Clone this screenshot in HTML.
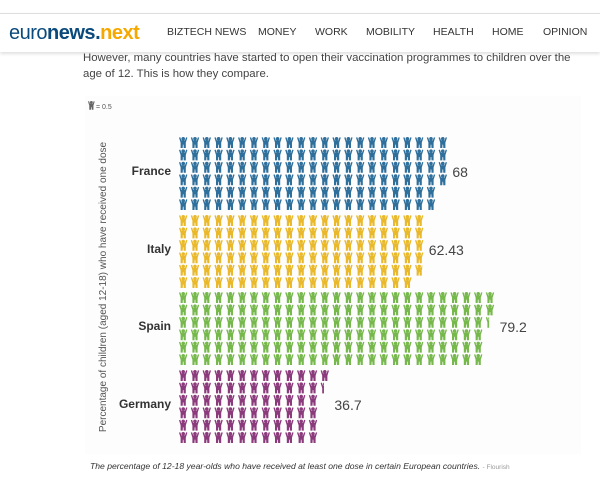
<!DOCTYPE html>
<html><head><meta charset="utf-8"><style>
body{margin:0;width:600px;height:497px;background:#fff;font-family:"Liberation Sans",sans-serif;position:relative;overflow:hidden}
.top{position:absolute;left:0;top:13px;width:600px;height:38px;background:#fff;box-shadow:0 2px 3px rgba(0,0,0,.12);border-top:1px solid #ddd}
.logo{position:absolute;left:9px;top:22px;font-size:20px;letter-spacing:-0.5px;color:#0b4a7c}
.logo b{font-weight:bold}.logo .n{color:#f5a800;font-weight:bold}
.nav{position:absolute;top:26px;font-size:10.5px;color:#333}
.p{position:absolute;left:83px;top:50px;font-size:11.4px;line-height:16px;color:#444;width:503px}
.cap{position:absolute;left:90px;top:461px;font-size:8.6px;font-style:italic;color:#333}
.cap span{font-style:normal;color:#999;font-size:6.5px}
</style></head><body>
<div class="top"></div>
<div class="logo">euro<b>news</b><b>.</b><span class="n">next</span></div>
<div class="nav" style="left:167px">BIZTECH NEWS</div>
<div class="nav" style="left:258px">MONEY</div>
<div class="nav" style="left:315px">WORK</div>
<div class="nav" style="left:366px">MOBILITY</div>
<div class="nav" style="left:433px">HEALTH</div>
<div class="nav" style="left:492px">HOME</div>
<div class="nav" style="left:543px">OPINION</div>
<div class="p">However, many countries have started to open their vaccination programmes to children over the age of 12. This is how they compare.</div>
<svg id="s" width="600" height="497" style="position:absolute;left:0;top:0">
<rect x="85" y="96" width="496" height="358" fill="#fdfdfd"/>
<defs><g id="pp"><circle cx="4.2" cy="1.8" r="1.8"/><path d="M0 0.6 L1.3 0.2 L2.4 3.4 L6 3.4 L7.1 0.2 L8.4 0.6 L6.8 5.6 L6.8 11 L4.7 11 L4.5 7.6 L3.9 7.6 L3.7 11 L1.6 11 L1.6 5.6 Z"/></g></defs>
<g transform="translate(88,101)" fill="#666"><use href="#pp" transform="scale(0.8)"/></g>
<text x="96" y="109" font-size="7" fill="#555">= 0.5</text>
<text transform="translate(106,287) rotate(-90)" text-anchor="middle" font-size="10" fill="#555">Percentage of children (aged 12-18) who have received one dose</text>
<g id="g"></g>
</svg>
<div class="cap">The percentage of 12-18 year-olds who have received at least one dose in certain European countries. <span>- Flourish</span></div>
<script>
var data=[["France",68,"#2f6f9c",137],["Italy",62.43,"#e9b92b",215],["Spain",79.2,"#76b84c",292],["Germany",36.7,"#8b3b7c",370]];
var g=document.getElementById('g'),h="";
data.forEach(function(d){
 var n=d[1]*2,i=0,lastc=0;
 for(var c=0;i<n;c++){for(var r=0;r<6&&i<n;r++,i++){
  var x=179+c*11.8,y=d[3]+r*12.4,f=Math.min(1,n-i);
  if(f<1){h+='<svg x="'+x+'" y="'+y+'" width="'+(8.4*f)+'" height="12" overflow="hidden"><use href="#pp" fill="'+d[2]+'"/></svg>';}
  else h+='<use href="#pp" x="'+x+'" y="'+y+'" fill="'+d[2]+'"/>';
  lastc=c;}}
 var lx=179+(lastc+1)*11.8+2;
 h+='<text x="'+lx+'" y="'+(d[3]+40)+'" font-size="14" fill="#444">'+d[1]+'</text>';
 h+='<text x="171" y="'+(d[3]+38)+'" font-size="12" font-weight="bold" text-anchor="end" fill="#333">'+d[0]+'</text>';
});
g.innerHTML=h;
</script>
</body></html>
